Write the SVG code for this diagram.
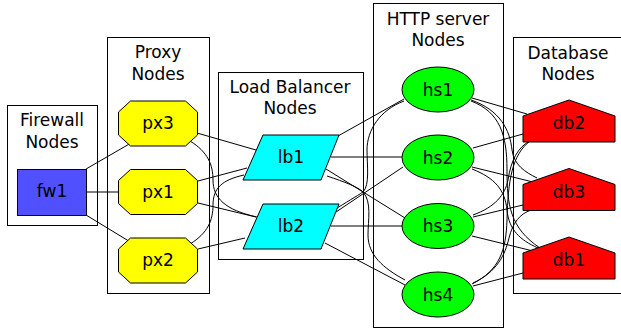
<svg xmlns="http://www.w3.org/2000/svg" width="621" height="331" viewBox="0 0 621 331">
<style>
text{font-family:"DejaVu Sans","Liberation Sans",sans-serif;font-size:17px;fill:#000;text-anchor:middle}
.cl{fill:#fff;stroke:#000;stroke-width:1}
.n{stroke:#000;stroke-width:1}
.e path{fill:none;stroke:#000;stroke-width:1}
</style>
<defs>
<polygon id="oct" points="-27.5,-22.5 27.5,-22.5 39.5,-11.5 39.5,11.5 27.5,22.5 -27.5,22.5 -39.5,11.5 -39.5,-11.5"/>
<polygon id="para" points="-27,-22.5 49,-22.5 31,22.5 -47,22.5"/>
<polygon id="house" points="0,0 46,16 46,42 -46,42 -46,16"/>
</defs>
<rect width="621" height="331" fill="#fff"/>
<g id="cluster_fw"><rect class="cl" x="7.5" y="105.5" width="90" height="120"/><text x="52" y="126">Firewall</text><text x="52" y="148">Nodes</text></g>
<g id="cluster_px"><rect class="cl" x="107.5" y="37.5" width="102" height="256"/><text x="158" y="58">Proxy</text><text x="158" y="80">Nodes</text></g>
<g id="cluster_lb"><rect class="cl" x="218.5" y="72.5" width="145" height="187"/><text x="290" y="93">Load Balancer</text><text x="290" y="114">Nodes</text></g>
<g id="cluster_hs"><rect class="cl" x="373.5" y="3.5" width="130" height="324"/><text x="438" y="25">HTTP server</text><text x="438" y="46">Nodes</text></g>
<g id="cluster_db"><rect class="cl" x="513.5" y="37.5" width="110" height="256"/><text x="568" y="59">Database</text><text x="568" y="80">Nodes</text></g>
<g class="e" id="edges">
<path d="M86,169 L131,143"/>
<path d="M86,192 L118,192"/>
<path d="M86,215 L132,243"/>
<path d="M197,133 L256,150"/>
<path d="M190,141 C208,152 213,165 213,180 C213,198 225,210 257,217"/>
<path d="M190,244 C208,233 213,220 213,205 C213,188 222,180 244,175"/>
<path d="M198,181 L247,168"/>
<path d="M198,203 L256,217"/>
<path d="M198,249 L245,238"/>
<path d="M338,136 L404,99"/>
<path d="M331,157 L402,157"/>
<path d="M326,169 L405,218"/>
<path d="M327,176 C345,182 358,187 363,192 C372,202 368,220 368,235 C368,255 383,268 405,280"/>
<path d="M334,210 C345,203 357,196 363,192 C370,185 367,165 367,150 C367,130 380,110 404,101"/>
<path d="M336,212 L403,167"/>
<path d="M331,226 L402,226"/>
<path d="M325,243 L405,285"/>
<path d="M472,98 L527,114"/>
<path d="M471,100 C500,110 510,130 512,150 C514,165 525,172 537,178"/>
<path d="M471,101 C500,112 507,135 507,170 C507,205 510,228 540,248"/>
<path d="M473,148 L523,134"/>
<path d="M472,167 L533,182"/>
<path d="M472,169 C495,178 505,190 507,210 C509,230 520,240 538,248"/>
<path d="M473,215 C495,207 505,195 508,180 C511,160 518,147 530,141"/>
<path d="M473,217 L523,205"/>
<path d="M472,236 L533,251"/>
<path d="M472,284 C500,270 506,250 507,220 C508,180 512,155 530,141"/>
<path d="M473,283 C497,272 505,255 509,238 C513,222 520,214 531,210"/>
<path d="M473,286 L523,273"/>
</g>
<g id="fw1"><rect class="n" x="17.5" y="169.5" width="69" height="46" fill="#5050ff"/><text x="52" y="197">fw1</text></g>
<g id="px3"><use href="#oct" class="n" fill="#ffff00" x="158" y="123.5"/><text x="158" y="129">px3</text></g>
<g id="px1"><use href="#oct" class="n" fill="#ffff00" x="158" y="192"/><text x="158" y="197.5">px1</text></g>
<g id="px2"><use href="#oct" class="n" fill="#ffff00" x="158" y="260.5"/><text x="158" y="266">px2</text></g>
<g id="lb1"><use href="#para" class="n" fill="#00ffff" x="290" y="157.5"/><text x="291" y="163">lb1</text></g>
<g id="lb2"><use href="#para" class="n" fill="#00ffff" x="290" y="226.5"/><text x="291" y="232">lb2</text></g>
<g id="hs1"><ellipse class="n" cx="438" cy="89.5" rx="36" ry="22.5" fill="#00ff00"/><text x="438" y="95.5">hs1</text></g>
<g id="hs2"><ellipse class="n" cx="438" cy="157.5" rx="36" ry="22.5" fill="#00ff00"/><text x="438" y="163.5">hs2</text></g>
<g id="hs3"><ellipse class="n" cx="438" cy="226" rx="36" ry="22.5" fill="#00ff00"/><text x="438" y="232">hs3</text></g>
<g id="hs4"><ellipse class="n" cx="438" cy="294.5" rx="36" ry="22.5" fill="#00ff00"/><text x="438" y="300.5">hs4</text></g>
<g id="db2"><use href="#house" class="n" fill="#ff0000" x="569" y="100"/><text x="569" y="129">db2</text></g>
<g id="db3"><use href="#house" class="n" fill="#ff0000" x="569" y="168.5"/><text x="569" y="197.5">db3</text></g>
<g id="db1"><use href="#house" class="n" fill="#ff0000" x="569" y="237"/><text x="569" y="266">db1</text></g>
</svg>
